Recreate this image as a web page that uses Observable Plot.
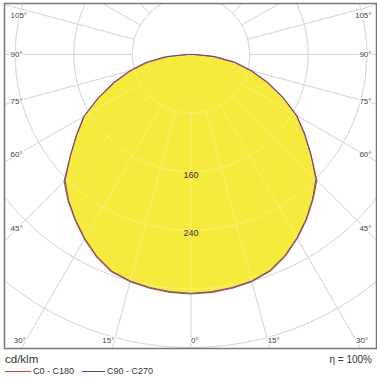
<!DOCTYPE html>
<html>
<head>
<meta charset="utf-8">
<script src="https://cdn.jsdelivr.net/npm/d3@7"></script>
<script src="https://cdn.jsdelivr.net/npm/@observablehq/plot@0.6"></script>
<style>
  html, body { margin: 0; padding: 0; background: #fff; }
  #wrap { width: 377px; font-family: "Liberation Sans", Arial, sans-serif; color: #333; }
  #legend { position: relative; width: 377px; height: 28px; }
  #legend span { position: absolute; line-height: 1; white-space: nowrap; }
</style>
</head>
<body>
<div id="wrap">
  <div id="chart"></div>
  <div id="legend"></div>
</div>
<script>
// Polar angles (degrees from nadir) and intensities in cd/klm
const angles = [0, 5, 10, 15, 20, 25, 30, 35, 40, 45, 50, 55, 60, 65, 70, 75, 80, 85, 90];
const c0   = [327, 326, 324, 321, 315, 304, 290, 275, 259, 243, 214, 189, 166, 138, 110, 84, 58, 30, 4];
const c180 = [327, 326, 324, 321, 316, 305, 291, 276, 261, 245, 215, 190, 168, 139, 111, 85, 59, 31, 4];
const c90  = [326, 325, 323, 320, 314, 303, 289, 274, 258, 241, 214, 190, 167, 139, 112, 86, 62, 34, 6];
const c270 = [326, 325, 323, 320, 315, 304, 290, 275, 260, 243, 215, 191, 169, 140, 113, 87, 63, 35, 6];

const gridRadii = [80, 160, 240, 320, 400, 480];
const radialAngles = d3.range(0, 360, 15);
const valueLabels = [160, 240];
const angleLabels = [0, 15, 30, 45, 60, 75, 90, 105];
const seriesNames = ["C0 - C180", "C90 - C270"];
const unitLabel = "cd/klm";
const effLabel = "η = 100%";

// layout
const W = 377, H = 350;
const mL = 4, mT = 3, mR = 1, mB = 2;
const k = 0.7325;           // px per cd/klm
const cx = 190.5, cy = 54;  // pole position in px
const xmin = -(cx - mL) / k, xmax = (W - mR - cx) / k;
const ymax = (cy - mT) / k,  ymin = -(H - mB - cy) / k;

const rad = a => a * Math.PI / 180;
function pt(side, a, r) { return {x: side * r * Math.sin(rad(a)), y: -r * Math.cos(rad(a))}; }

function plane(left, right) {
  const pts = [];
  for (let i = angles.length - 1; i >= 0; i--) pts.push(pt(-1, angles[i], left[i]));
  for (let i = 1; i < angles.length; i++) pts.push(pt(1, angles[i], right[i]));
  pts.push(pts[0]);
  return pts;
}
const redPts = plane(c180, c0);
const bluePts = plane(c270, c90);

// grid
const circlePts = [];
for (const r of gridRadii) for (let a = 0; a <= 360; a += 2) circlePts.push({r, ...pt(1, a, r)});
const radials = radialAngles.map(a => {
  const p1 = pt(1, a, 80), p2 = pt(1, a, 520);
  return {x1: p1.x, y1: p1.y, x2: p2.x, y2: p2.y};
});

// angle labels
const xc = xmin + 13 / k;          // label centre on sides
const xs = xmin + 6 / k;           // label start on sides
const yb = ymin + 8 / k;           // bottom label line
const lbl = [];
for (const a of angleLabels) {
  const t = rad(a);
  const ySide = Math.cos(t) * xc / Math.sin(t);
  if (a > 0 && ySide > yb) {
    const y = Math.min(ySide, ymax - 12 / k);
    lbl.push({x: xs, y, text: a + "°", anchor: "start"});
    lbl.push({x: -xs, y, text: a + "°", anchor: "end"});
  } else if (a === 0) {
    lbl.push({x: 0, y: yb, text: "0°", anchor: "start"});
  } else {
    const x = -yb * Math.tan(t);
    lbl.push({x: -x, y: yb, text: a + "°", anchor: "end"});
    lbl.push({x: x, y: yb, text: a + "°", anchor: "start"});
  }
}

const yellow = "rgb(246,234,60)";
const red = "#c8443c";
const blue = "#4a4a96";

const chart = Plot.plot({
  width: W, height: H,
  marginLeft: mL, marginTop: mT, marginRight: mR, marginBottom: mB,
  x: {domain: [xmin, xmax], axis: null},
  y: {domain: [ymin, ymax], axis: null},
  style: {fontFamily: "Liberation Sans, Arial, sans-serif", background: "#fff"},
  marks: [
    Plot.line(circlePts, {x: "x", y: "y", z: "r", stroke: "#c6c6c6", strokeWidth: 1, clip: true}),
    Plot.link(radials, {x1: "x1", y1: "y1", x2: "x2", y2: "y2", stroke: "#c6c6c6", strokeWidth: 1, clip: true}),
    Plot.line(redPts, {x: "x", y: "y", fill: yellow, stroke: "none", clip: true}),
    Plot.line(circlePts, {x: "x", y: "y", z: "r", stroke: "#fff", strokeOpacity: 0.3, strokeWidth: 1, clip: true}),
    Plot.link(radials, {x1: "x1", y1: "y1", x2: "x2", y2: "y2", stroke: "#fff", strokeOpacity: 0.3, strokeWidth: 1, clip: true}),
    Plot.line(redPts, {x: "x", y: "y", stroke: red, strokeWidth: 1.1, clip: true}),
    Plot.line(bluePts, {x: "x", y: "y", stroke: blue, strokeWidth: 1, strokeOpacity: 0.85, clip: true}),
    Plot.text(valueLabels, {x: 0, y: d => -d, text: d => String(d), dy: 3, fontSize: 9, fill: "#333"}),
    Plot.text(lbl.filter(d => d.anchor === "start"), {x: "x", y: "y", text: "text", textAnchor: "start", fontSize: 8, fill: "#444", stroke: "#fff", strokeWidth: 3}),
    Plot.text(lbl.filter(d => d.anchor === "end"), {x: "x", y: "y", text: "text", textAnchor: "end", fontSize: 8, fill: "#444", stroke: "#fff", strokeWidth: 3}),
    Plot.frame({stroke: "#777", strokeWidth: 1.5})
  ]
});
document.getElementById("chart").appendChild(chart);

// legend below the chart
const lg = document.getElementById("legend");
function span(text, style) {
  const s = document.createElement("span");
  s.textContent = text;
  Object.assign(s.style, style);
  lg.appendChild(s);
}
function swatch(color, left, width) {
  const d = document.createElement("span");
  Object.assign(d.style, {left: left + "px", top: "21px", width: width + "px", height: "0px", borderTop: "1px solid " + color});
  lg.appendChild(d);
}
span(unitLabel, {left: "5px", top: "4px", fontSize: "11.5px"});
span(effLabel, {right: "5px", top: "5px", fontSize: "10px"});
swatch(red, 5, 26);
span(seriesNames[0], {left: "33px", top: "17px", fontSize: "9px"});
swatch(blue, 82, 23);
span(seriesNames[1], {left: "107px", top: "17px", fontSize: "9px"});
</script>
</body>
</html>
